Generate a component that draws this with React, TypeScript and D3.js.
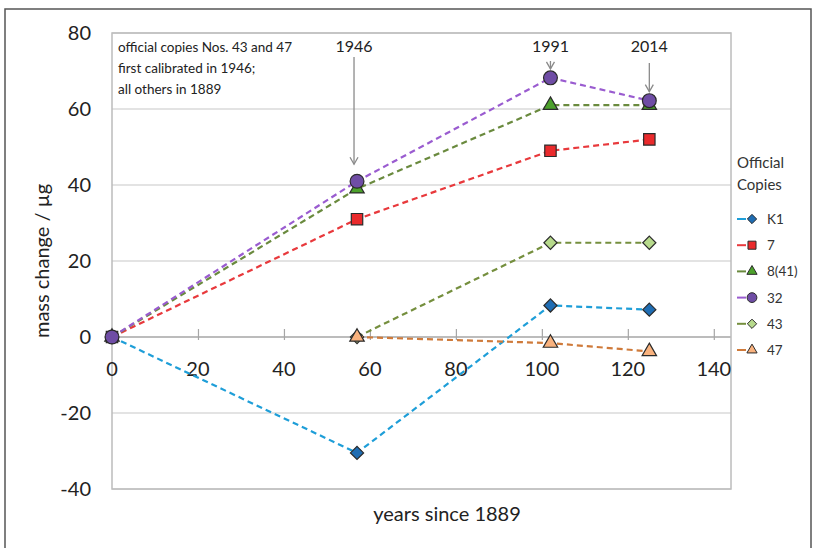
import * as d3 from "d3";
import { useEffect, useRef } from "react";

// data
const years = [0, 57, 102, 125];
const k1 = [0, -30.5, 8.3, 7.2];
const c7 = [0, 31, 49, 52];
const c8 = [0, 39, 61, 61];
const c32 = [0, 41, 68.2, 62.2];
const c43 = [null, 0, 24.8, 24.8];
const c47 = [null, 0, -1.6, -3.8];

const seriesNames = ["K1", "7", "8(41)", "32", "43", "47"];
const xTicks = [0, 20, 40, 60, 80, 100, 120, 140];
const yTicks = [-40, -20, 0, 20, 40, 60, 80];
const arrowYears = ["1946", "1991", "2014"];
const noteLines = ["official copies Nos. 43 and 47", "first calibrated in 1946;", "all others in 1889"];

export default function App() {
  const ref = useRef<SVGSVGElement>(null);

  useEffect(() => {
    const width = 816;
    const height = 548;
    const margin = { top: 33, right: 85, bottom: 59, left: 112 };
    const font = "Lato, 'Open Sans', sans-serif";

    const svg = d3.select(ref.current);
    svg.selectAll("*").remove();

    // outer frame
    svg.append("rect")
      .attr("x", 5).attr("y", 9)
      .attr("width", 806).attr("height", 560)
      .attr("fill", "none")
      .attr("stroke", "#555")
      .attr("stroke-width", 1.5);

    const x = d3.scaleLinear()
      .domain([0, 144])
      .range([margin.left, width - margin.right]);
    const y = d3.scaleLinear()
      .domain([-40, 80])
      .range([height - margin.bottom, margin.top]);

    // gridlines
    svg.append("g")
      .selectAll("line")
      .data(yTicks)
      .join("line")
      .attr("x1", x(0)).attr("x2", x(144))
      .attr("y1", d => y(d)).attr("y2", d => y(d))
      .attr("stroke", d => (d === 0 ? "#a6a6a6" : "#c8c8c8"))
      .attr("stroke-width", d => (d === 0 ? 1.6 : 1.2));

    // plot border
    svg.append("rect")
      .attr("x", x(0)).attr("y", y(80))
      .attr("width", x(144) - x(0)).attr("height", y(-40) - y(80))
      .attr("fill", "none")
      .attr("stroke", "#bcbcbc")
      .attr("stroke-width", 1.5);

    // x axis crossing at 0
    const xAxis = d3.axisBottom(x)
      .tickValues(xTicks.filter(d => d > 0))
      .tickSize(0)
      .tickFormat(() => "");
    const gx = svg.append("g")
      .attr("transform", `translate(0, ${y(0)})`)
      .call(xAxis);
    gx.select(".domain").remove();
    gx.selectAll(".tick").append("line")
      .attr("y1", -8).attr("y2", 3)
      .attr("stroke", "#a6a6a6")
      .attr("stroke-width", 1.2);

    svg.append("g")
      .selectAll("text")
      .data(xTicks)
      .join("text")
      .attr("x", d => x(d))
      .attr("y", y(0) + 39)
      .attr("text-anchor", "middle")
      .attr("font-family", font)
      .attr("font-size", 20)
      .attr("fill", "#222")
      .text(d => d);

    svg.append("g")
      .selectAll("text")
      .data(yTicks)
      .join("text")
      .attr("x", 91)
      .attr("y", d => y(d) + 7)
      .attr("text-anchor", "end")
      .attr("font-family", font)
      .attr("font-size", 20)
      .attr("fill", "#222")
      .text(d => d);

    // axis titles
    svg.append("text")
      .attr("transform", `translate(49, ${y(20)}) rotate(-90)`)
      .attr("text-anchor", "middle")
      .attr("font-family", font)
      .attr("font-size", 20)
      .attr("fill", "#222")
      .text("mass change / µg");

    svg.append("text")
      .attr("x", 447).attr("y", 521)
      .attr("text-anchor", "middle")
      .attr("font-family", font)
      .attr("font-size", 20)
      .attr("fill", "#222")
      .text("years since 1889");

    // note text
    svg.append("g")
      .selectAll("text")
      .data(noteLines)
      .join("text")
      .attr("x", 118)
      .attr("y", (d, i) => 52 + i * 21)
      .attr("font-family", font)
      .attr("font-size", 13.5)
      .attr("fill", "#222")
      .text(d => d);

    // arrows with years
    const arrowTop = [57, 61, 63];
    const arrowTip = [y(41) - 17, y(68.2) - 9, y(62.2) - 9];
    const arrowX = [x(57) - 3, x(102), x(125)];
    const ga = svg.append("g");
    arrowYears.forEach((label, i) => {
      ga.append("text")
        .attr("x", arrowX[i])
        .attr("y", 52)
        .attr("text-anchor", "middle")
        .attr("font-family", font)
        .attr("font-size", 16)
        .attr("fill", "#222")
        .text(label);
      ga.append("line")
        .attr("x1", arrowX[i]).attr("x2", arrowX[i])
        .attr("y1", arrowTop[i]).attr("y2", arrowTip[i])
        .attr("stroke", "#8a8a8a")
        .attr("stroke-width", 1.3);
      ga.append("path")
        .attr("d", `M${arrowX[i] - 4},${arrowTip[i] - 7} L${arrowX[i]},${arrowTip[i]} L${arrowX[i] + 4},${arrowTip[i] - 7}`)
        .attr("fill", "none")
        .attr("stroke", "#8a8a8a")
        .attr("stroke-width", 1.3);
    });

    const series = [
      { name: seriesNames[0], values: k1, line: "#1e9ed8", fill: "#1f6db3", shape: d3.symbolDiamond2, size: 110 },
      { name: seriesNames[1], values: c7, line: "#e8393c", fill: "#ea2a2c", shape: d3.symbolSquare, size: 130 },
      { name: seriesNames[2], values: c8, line: "#6a8a3e", fill: "#4ca12b", shape: d3.symbolTriangle, size: 90 },
      { name: seriesNames[3], values: c32, line: "#9a5cd0", fill: "#6f4da5", shape: d3.symbolCircle, size: 150 },
      { name: seriesNames[4], values: c43, line: "#758f3e", fill: "#b7da8c", shape: d3.symbolDiamond2, size: 110 },
      { name: seriesNames[5], values: c47, line: "#cf7a3a", fill: "#f9b27e", shape: d3.symbolTriangle, size: 90 },
    ];

    const line = d3.line<[number, number | null]>()
      .defined(d => d[1] !== null)
      .x(d => x(d[0]))
      .y(d => y(d[1] as number));

    const gs = svg.append("g");
    // each series: dashed line then its markers, later series on top
    series.forEach(s => {
      const pts = years.map((yr, i) => [yr, s.values[i]] as [number, number | null]);
      gs.append("path")
        .datum(pts)
        .attr("fill", "none")
        .attr("stroke", s.line)
        .attr("stroke-width", 2.2)
        .attr("stroke-dasharray", "6,4")
        .attr("d", line);
      gs.append("g")
        .selectAll("path")
        .data(pts.filter(d => d[1] !== null))
        .join("path")
        .attr("transform", d => `translate(${x(d[0])}, ${y(d[1] as number)})`)
        .attr("d", d3.symbol().type(s.shape).size(s.size)())
        .attr("fill", s.fill)
        .attr("stroke", "#2b2b2b")
        .attr("stroke-width", 1.2);
    });

    // legend
    const lg = svg.append("g").attr("transform", "translate(737, 0)");
    lg.append("text")
      .attr("x", 0).attr("y", 168)
      .attr("font-family", font)
      .attr("font-size", 15)
      .attr("fill", "#333")
      .text("Official");
    lg.append("text")
      .attr("x", 0).attr("y", 190)
      .attr("font-family", font)
      .attr("font-size", 15)
      .attr("fill", "#333")
      .text("Copies");
    series.forEach((s, i) => {
      const ly = 219 + i * 26.2;
      lg.append("line")
        .attr("x1", 0).attr("x2", 9)
        .attr("y1", ly).attr("y2", ly)
        .attr("stroke", s.line)
        .attr("stroke-width", 2);
      lg.append("path")
        .attr("transform", `translate(15, ${ly})`)
        .attr("d", d3.symbol().type(s.shape).size(s.size * 0.5)())
        .attr("fill", s.fill)
        .attr("stroke", "#2b2b2b")
        .attr("stroke-width", 1);
      lg.append("text")
        .attr("x", 30).attr("y", ly + 5)
        .attr("font-family", font)
        .attr("font-size", 13.5)
        .attr("fill", "#333")
        .text(s.name);
    });
  }, []);

  return (
    <svg
      ref={ref}
      width={816}
      height={548}
      style={{ position: "absolute", left: 0, top: 0, background: "#fff" }}
    />
  );
}
